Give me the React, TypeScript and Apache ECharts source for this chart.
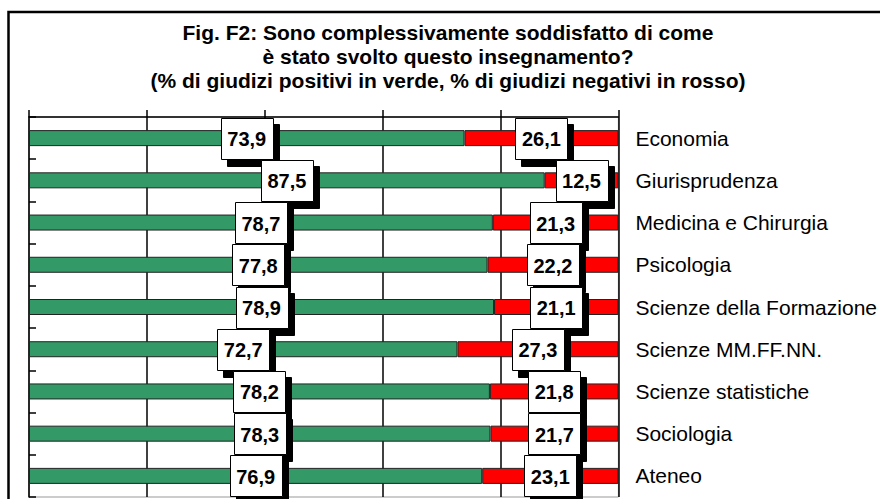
import React, { useEffect, useRef } from "react";
import * as echarts from "echarts";

const categories = [
  "Economia",
  "Giurisprudenza",
  "Medicina e Chirurgia",
  "Psicologia",
  "Scienze della Formazione",
  "Scienze MM.FF.NN.",
  "Scienze statistiche",
  "Sociologia",
  "Ateneo",
];
const positive = [73.9, 87.5, 78.7, 77.8, 78.9, 72.7, 78.2, 78.3, 76.9];
const negative = [26.1, 12.5, 21.3, 22.2, 21.1, 27.3, 21.8, 21.7, 23.1];
const titleLines = [
  "Fig. F2: Sono complessivamente soddisfatto di come",
  "è stato svolto questo insegnamento?",
  "(% di giudizi positivi in verde, % di giudizi negativi in rosso)",
];

const FONT = 'Arial, "Liberation Sans", sans-serif';

const fmt = (v: number) => v.toFixed(1).replace(".", ",");

// label data: [segment start, segment end, category index, value]
const labelData: number[][] = [];
positive.forEach((p, i) => labelData.push([0, p, i, p]));
negative.forEach((n, i) => labelData.push([positive[i], positive[i] + n, i, n]));

export default function App() {
  const ref = useRef<HTMLDivElement>(null);
  useEffect(() => {
    if (!ref.current) return;
    const chart = echarts.init(ref.current, undefined, { renderer: "svg" });
    chart.setOption({
      animation: false,
      backgroundColor: "#fff",
      title: {
        text: titleLines.join("\n"),
        left: 448,
        top: 20,
        padding: 0,
        textAlign: "center",
        textStyle: {
          fontFamily: FONT,
          fontSize: 21,
          fontWeight: "bold",
          color: "#000",
          lineHeight: 24,
        },
      },
      graphic: [
        {
          type: "rect",
          shape: { x: 8.5, y: 12, width: 1000, height: 1000 },
          style: { fill: "none", stroke: "#000", lineWidth: 2.5 },
          silent: true,
          z: 100,
        },
      ],
      grid: {
        left: 29,
        right: 261,
        top: 117,
        bottom: 2,
        show: true,
        borderColor: "#999",
        borderWidth: 1,
        backgroundColor: "#fff",
      },
      xAxis: {
        type: "value",
        position: "top",
        min: 0,
        max: 100,
        interval: 20,
        axisLine: { show: true, lineStyle: { color: "#000", width: 1.5 } },
        axisTick: { show: true, inside: false, length: 7, lineStyle: { color: "#000", width: 1.5 } },
        axisLabel: { show: false },
        splitLine: {
          show: true,
          lineStyle: { color: ["#999", "#000", "#000", "#000", "#000", "#000"], width: 1.5 },
        },
      },
      yAxis: {
        type: "category",
        position: "right",
        inverse: true,
        data: categories,
        axisLine: { show: true, lineStyle: { color: "#000", width: 1.5 } },
        axisTick: { show: true, inside: false, length: 7, lineStyle: { color: "#000", width: 1.5 } },
        axisLabel: {
          margin: 17,
          fontFamily: FONT,
          fontSize: 21,
          color: "#000",
        },
        splitLine: { show: false },
      },
      series: [
        {
          type: "bar",
          stack: "total",
          data: positive,
          barWidth: 16,
          itemStyle: { color: "#339966", borderColor: "#222", borderWidth: 1 },
        },
        {
          type: "bar",
          stack: "total",
          data: negative,
          barWidth: 16,
          itemStyle: { color: "#FF0000", borderColor: "#222", borderWidth: 1 },
        },
        {
          type: "custom",
          z: 5,
          silent: true,
          data: labelData,
          encode: { x: [0, 1], y: 2 },
          renderItem: (params: any, api: any) => {
            const start = api.value(0);
            const end = api.value(1);
            const idx = api.value(2);
            const v = api.value(3);
            const pt = api.coord([(start + end) / 2, idx]);
            const w = 52;
            const h = 41;
            const x0 = Math.round(pt[0] - w / 2) + 0.5;
            const y0 = Math.round(pt[1] - h / 2) + 0.5;
            return {
              type: "group",
              children: [
                {
                  type: "polygon",
                  shape: {
                    points: [
                      [x0 + w, y0 + 6],
                      [x0 + w + 6, y0 + 6],
                      [x0 + w + 6, y0 + h + 7],
                      [x0 + 6, y0 + h + 7],
                      [x0 + 6, y0 + h],
                      [x0 + w, y0 + h],
                    ],
                  },
                  style: { fill: "rgb(0,0,0)", stroke: "rgb(0,0,0)", lineWidth: 1, opacity: 1 },
                },
                {
                  type: "rect",
                  shape: { x: x0, y: y0, width: w, height: h },
                  style: { fill: "#fff", stroke: "#000", lineWidth: 1, opacity: 1 },
                },
                {
                  type: "text",
                  x: pt[0],
                  y: pt[1] + 1,
                  style: {
                    text: fmt(v),
                    fill: "#000",
                    fontFamily: FONT,
                    fontSize: 20,
                    fontWeight: "bold",
                    align: "center",
                    verticalAlign: "middle",
                  },
                },
              ],
            };
          },
        },
      ],
    });
    return () => chart.dispose();
  }, []);
  return (
    <div
      ref={ref}
      style={{ position: "absolute", left: 0, top: 0, width: 880, height: 499 }}
    />
  );
}
